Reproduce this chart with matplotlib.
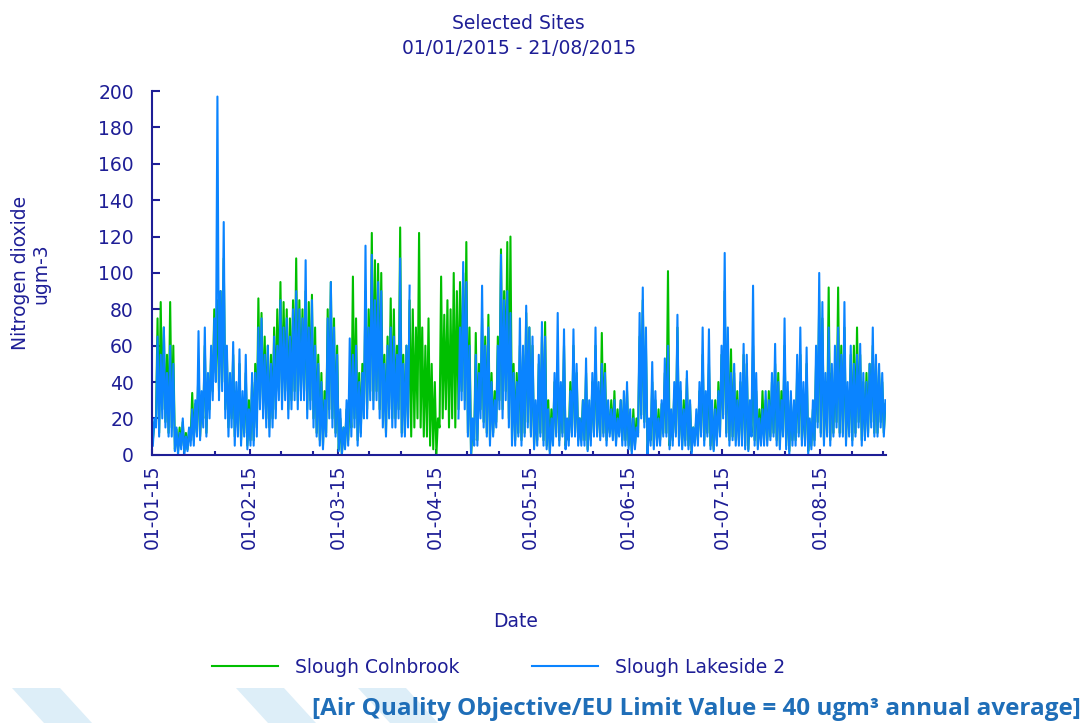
import numpy as np
import matplotlib
matplotlib.use("Agg")
import matplotlib.pyplot as plt
import matplotlib.dates as mdates
from matplotlib.patches import Polygon

plt.rcParams['font.family'] = ['DejaVu Sans']

# daily high / low readings (ugm-3), 01/01/2015 .. 21/08/2015
N = None
lakeside_high = [
    20, 65, 55, 70, 45, 60, 50,
    15, 12, 20, 10, 15, 25,
    30, 68, 35, 70, 45, 60, 75,
    197, 90, 128,
    60, 45, 62, 40, 58, 35, 55, 25, 45,
    45, 70, 75, 55, 60, 50, 65,
    60, 85, 70, 75, 65, 80, 90,
    80, 75, 107, 70, 85, 60, 50,
    40, 30, 75, 95, 70, 55,
    25, 15, 30, 64,
    55, 60, 40, 45, 115, 70, 110,
    85, 95, 90, 50, 60, 70, 65,
    55, 108, 50, 60, 93,
    N, N, N, N, N, N, N, N, N, N, N, N, N, N, N,
    70,
    106, 95, 60, 20, 55, 45,
    93, 60, 70, 40, 30, 60,
    110, 85, 90, 78, 45, 40, 75,
    60, 82, 70, 65, 30, 55, 73,
    65, 25, 20, 45, 78, 40, 69,
    20, 35, 69, 50, 20, 30, 53,
    30, 45, 70, 40, 50, 45, 30,
    25, 30, 20, 30, 35, 40, 25,
    20, 15, 78, 92, 70, 20, 51,
    35, 20, 30, 53, 60, 25, 40,
    77, 40, 25, 46, 30, 15, 25,
    40, 70, 35, 69, 30, 25, 35,
    60, 111, 70, 45, 50, 30, 45,
    61, 55, 30, 93, 45, 20, 25,
    35, 30, 45, 61, 40, 30, 75,
    40, 35, 30, 55, 70, 40, 59,
    20, 30, 60, 100, 84, 45, 70,
    50, 60, 70, 55, 84, 40, 60,
    50, 55, 61, 45, 40, 50, 70,
    55, 50, 45, 30,
]
lakeside_low = [
    5, 15, 10, 20, 15, 10, 10,
    2, 0, 3, 0, 2, 5,
    5, 10, 8, 15, 10, 20, 30,
    40, 30, 35,
    20, 10, 15, 5, 10, 5, 10, 3, 5,
    5, 10, 25, 20, 15, 10, 15,
    20, 30, 25, 30, 20, 25, 30,
    25, 30, 30, 20, 25, 15, 10,
    5, 3, 10, 20, 15, 10,
    2, 0, 3, 5,
    10, 15, 5, 10, 20, 20, 30,
    25, 30, 20, 15, 10, 20, 15,
    15, 20, 10, 10, 15,
    N, N, N, N, N, N, N, N, N, N, N, N, N, N, N,
    20,
    30, 25, 10, 0, 5, 5,
    20, 15, 10, 5, 10, 15,
    25, 20, 30, 15, 5, 5, 10,
    5, 10, 15, 10, 3, 5, 10,
    5, 3, 0, 5, 10, 5, 10,
    3, 5, 10, 10, 5, 5, 5,
    2, 5, 10, 10, 8, 10, 5,
    10, 8, 5, 10, 5, 5, 3,
    0, 3, 10, 20, 15, 0, 5,
    3, 5, 5, 10, 10, 3, 5,
    10, 5, 3, 5, 3, 0, 5,
    5, 10, 5, 10, 3, 2, 5,
    10, 20, 10, 5, 8, 5, 5,
    5, 3, 2, 10, 5, 3, 5,
    5, 5, 8, 10, 5, 3, 10,
    3, 0, 5, 5, 10, 5, 5,
    0, 3, 5, 15, 10, 5, 10,
    5, 10, 15, 10, 10, 5, 10,
    5, 10, 15, 5, 8, 10, 15,
    10, 10, 15, 10,
]
colnbrook_high = [
    18, 75, 84, 70, 55, 84, 60,
    14, 15, 18, 12, 14, 34,
    28, 50, 30, 60, 40, 55, 80,
    85, 90, 108,
    55, 40, 55, 35, 50, 30, 45, 30, 40,
    50, 86, 78, 65, 60, 55, 70,
    80, 95, 84, 80, 75, 85, 108,
    85, 80, 90, 84, 88, 70, 55,
    45, 35, 80, 95, 75, 60,
    20, 15, 25, 30,
    98, 75, 45, 50, 90, 80, 122,
    107, 105, 100, 55, 65, 86, 80,
    60, 125, 55, 60, 85,
    80, 70, 122, 70, 60, 75, 50, 40, 20,
    98, 77, 85, 80, 100, 90, 95,
    100, 117, 70, 15, 67, 50,
    75, 65, 77, 45, 35, 65,
    113, 90, 117, 120, 50, 45, 60,
    55, 78, 70, 60, 25, 50, 65,
    73, 30, 25, 40, 50, 35, 60,
    15, 40, 60, 45, 20, 30, 45,
    25, 40, 60, 35, 67, 50, 25,
    30, 35, 25, 30, 30, 35, 20,
    25, 20, 65, 85, 60, 15, 40,
    30, 25, 28, 45, 101, 20, 35,
    70, 35, 30, 42, 28, 15, 20,
    35, 55, 30, 50, 25, 30, 40,
    55, 90, 61, 58, 45, 35, 40,
    55, 50, 25, 60, 35, 25, 35,
    30, 35, 40, 50, 45, 35, 60,
    35, 30, 25, 45, 55, 30, 50,
    15, 25, 50, 85, 75, 40, 92,
    45, 50, 92, 60, 70, 35, 55,
    60, 70, 55, 40, 45, 50, 60,
    50, 45, 40, 28,
]
colnbrook_low = [
    8, 18, 12, 25, 18, 12, 15,
    3, 2, 5, 2, 3, 8,
    8, 12, 10, 20, 12, 25, 35,
    45, 35, 40,
    25, 15, 20, 10, 15, 8, 12, 5, 8,
    8, 15, 30, 25, 20, 15, 20,
    25, 35, 30, 35, 25, 30, 35,
    30, 35, 35, 25, 30, 20, 12,
    8, 5, 12, 25, 20, 12,
    3, 0, 5, 8,
    15, 20, 8, 12, 25, 25, 35,
    30, 35, 25, 20, 12, 25, 20,
    20, 25, 12, 12, 20,
    10, 15, 20, 15, 10, 10, 5, 3, 0, 15, 20, 25, 15, 20, 15, 25,
    35, 30, 12, 0, 8, 8,
    25, 18, 12, 8, 12, 18,
    30, 25, 35, 20, 8, 8, 12,
    8, 12, 18, 12, 5, 8, 12,
    8, 5, 2, 8, 12, 8, 12,
    5, 8, 12, 12, 8, 8, 8,
    3, 8, 12, 12, 10, 12, 8,
    12, 10, 8, 12, 8, 8, 5,
    2, 5, 12, 22, 18, 2, 8,
    5, 8, 8, 12, 12, 5, 8,
    12, 8, 5, 8, 5, 2, 8,
    8, 12, 8, 12, 5, 3, 8,
    12, 22, 12, 8, 10, 8, 8,
    8, 5, 3, 12, 8, 5, 8,
    8, 8, 10, 12, 8, 5, 12,
    5, 2, 8, 8, 12, 8, 8,
    2, 5, 8, 18, 12, 8, 12,
    8, 12, 18, 12, 12, 8, 12,
    8, 12, 18, 8, 10, 12, 18,
    12, 12, 18, 12,
]

days = np.arange(np.datetime64('2015-01-01'), np.datetime64('2015-08-22'))
yticks = [0, 20, 40, 60, 80, 100, 120, 140, 160, 180, 200]
ytick_labels = ['0', '20', '40', '60', '80', '100', '120', '140', '160', '180', '200']

navy = '#1E1E96'
green = '#00BF00'
blue = '#0A84FF'
fs = 13.5


def zigzag(lows, highs):
    # interleave low/high of each day so the line fills the daily range
    t, v = [], []
    for d, lo, hi in zip(days, lows, highs):
        t += [d + np.timedelta64(6, 'h'), d + np.timedelta64(18, 'h')]
        v += [np.nan if lo is None else lo, np.nan if hi is None else hi]
    return np.array(t), np.array(v, dtype=float)


fig = plt.figure(figsize=(10.86, 7.23), dpi=100)
ax = fig.add_axes([0.140, 0.371, 0.676, 0.503])

t, v = zigzag(colnbrook_low, colnbrook_high)
ax.plot(t, v, color=green, lw=1.5, label='Slough Colnbrook')
t, v = zigzag(lakeside_low, lakeside_high)
ax.plot(t, v, color=blue, lw=1.5, label='Slough Lakeside 2')

ax.set_xlim(np.datetime64('2015-01-01'), np.datetime64('2015-08-22'))
ax.set_ylim(0, 200)
ax.set_yticks(yticks)
ax.set_yticklabels(ytick_labels)

ax.xaxis.set_major_locator(mdates.MonthLocator())
ax.xaxis.set_major_formatter(mdates.DateFormatter('%d-%m-%y'))
ax.xaxis.set_minor_locator(mdates.DayLocator(bymonthday=[11, 21]))
plt.setp(ax.get_xticklabels(), rotation=90)

for s in ['top', 'right']:
    ax.spines[s].set_visible(False)
for s in ['left', 'bottom']:
    ax.spines[s].set_color(navy)
    ax.spines[s].set_linewidth(1.5)
ax.tick_params(axis='both', which='both', direction='in', colors=navy, labelcolor=navy, labelsize=fs)
ax.tick_params(axis='y', length=6, width=1.5, pad=13)
ax.tick_params(axis='x', which='major', length=4, width=1.5, pad=7)
ax.tick_params(axis='x', which='minor', length=3, width=1.5)

fig.text(0.4775, 0.968, 'Selected Sites', ha='center', va='center', color=navy, fontsize=fs)
fig.text(0.4775, 0.933, '01/01/2015 - 21/08/2015', ha='center', va='center', color=navy, fontsize=fs)
fig.text(0.028, 0.622, 'Nitrogen dioxide\nugm-3', ha='center', va='center', rotation=90,
         color=navy, fontsize=fs, linespacing=1.1)
fig.text(0.475, 0.141, 'Date', ha='center', va='center', color=navy, fontsize=fs)

fig.legend(loc='center', bbox_to_anchor=(0.459, 0.077), ncol=2, frameon=False,
           fontsize=fs, labelcolor=navy, handlelength=3.5, columnspacing=3.9, handletextpad=0.9)

# light decorative stripes at the bottom left
for x0 in [12, 236, 358]:
    pts = [(x0, 688), (x0 + 48, 688), (x0 + 80, 723), (x0 + 32, 723)]
    fig.patches.append(Polygon([(px / 1086, 1 - py / 723) for px, py in pts], closed=True,
                               transform=fig.transFigure, facecolor='#DDEEF8', edgecolor='none', zorder=0))

fig.text(0.995, 0.019, '[Air Quality Objective/EU Limit Value = 40 ugm\u00b3 annual average]',
         ha='right', va='center', color='#1F6EB8', fontsize=17.5, fontweight='bold', family='Open Sans')

fig.savefig('out.png', dpi=100)
